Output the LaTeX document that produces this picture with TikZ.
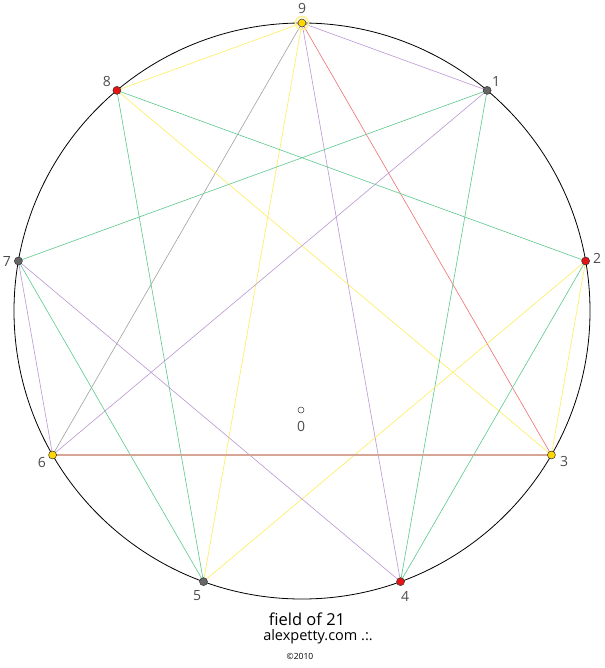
\documentclass[tikz,border=0pt]{standalone}
\usepackage{fontspec}
\setmainfont{Open Sans}
\usetikzlibrary{calc}
\definecolor{cyel}{RGB}{255,236,90}
\definecolor{cgrn}{RGB}{90,200,140}
\definecolor{cpur}{RGB}{185,150,210}
\definecolor{cred}{RGB}{240,110,110}
\definecolor{cgry}{RGB}{160,160,160}
\definecolor{ctan}{RGB}{215,165,150}
\definecolor{chalo}{RGB}{255,240,150}
\definecolor{dyel}{RGB}{255,215,0}
\definecolor{dred}{RGB}{230,20,20}
\begin{document}
\begin{tikzpicture}[x=1pt,y=-1pt,
  lbl/.style={text=black!70, font=\fontsize{14}{14}\selectfont, inner sep=0pt},
  dot/.style={circle, draw=black!80, line width=0.5pt, minimum size=8pt, inner sep=0pt},
  yl/.style={draw=cyel, line width=0.6pt},
  gl/.style={draw=cgrn, line width=0.6pt},
  pl/.style={draw=cpur, line width=0.6pt},
  rl/.style={draw=cred, line width=0.6pt},
  al/.style={draw=cgry, line width=0.6pt},
  tl/.style={draw=ctan, line width=1.4pt}]
\useasboundingbox (0,0) rectangle (604,668);
\coordinate (c) at (302,311);
\draw[black, line width=0.8pt] (c) circle (288);
\foreach \n/\a in {9/90,1/50,2/10,3/-30,4/-70,5/-110,6/-150,7/170,8/130}
  \coordinate (p\n) at ($(c)+({288*cos(\a)},{-288*sin(\a)})$);
% lines
\draw[pl] (p9) -- (p1);
\draw[yl] (p9) -- (p8);
\draw[rl] (p9) -- (p3);
\draw[pl] (p9) -- (p4);
\draw[yl] (p9) -- (p5);
\draw[al] (p9) -- (p6);
\draw[gl] (p8) -- (p2);
\draw[yl] (p8) -- (p3);
\draw[gl] (p8) -- (p5);
\draw[gl] (p1) -- (p7);
\draw[pl] (p1) -- (p6);
\draw[gl] (p1) -- (p4);
\draw[pl] (p7) -- (p6);
\draw[gl] (p7) -- (p5);
\draw[pl] (p7) -- (p4);
\draw[yl] (p2) -- (p3);
\draw[gl] (p2) -- (p4);
\draw[yl] (p2) -- (p5);
\draw[tl] (p6) -- (p3);
% halo
\draw[chalo, line width=1.5pt] (p9) circle (6.5);
% dots
\node[dot, fill=dyel] (d9) at (p9) {};
\node[dot, fill=black!60] (d1) at (p1) {};
\node[dot, fill=dred] (d2) at (p2) {};
\node[dot, fill=dyel] (d3) at (p3) {};
\node[dot, fill=dred] (d4) at (p4) {};
\node[dot, fill=black!60] (d5) at (p5) {};
\node[dot, fill=dyel] (d6) at (p6) {};
\node[dot, fill=black!60] (d7) at (p7) {};
\node[dot, fill=dred] (d8) at (p8) {};
% labels
\node[lbl] (l9) at (302,9) {9};
\node[lbl] (l1) at (496,82) {1};
\node[lbl] (l2) at (597,258) {2};
\node[lbl] (l3) at (564,461) {3};
\node[lbl] (l4) at (405,596) {4};
\node[lbl] (l5) at (197,596) {5};
\node[lbl] (l6) at (42,462) {6};
\node[lbl] (l7) at (7,262) {7};
\node[lbl] (l8) at (107,82) {8};
% center
\node[circle, draw=black!80, fill=white, line width=0.5pt, minimum size=6pt, inner sep=0pt] (o) at (301,410) {};
\node[lbl] (l0) at (301,426) {0};
% titles
\node[inner sep=0pt, font=\fontsize{16.5}{16.5}\selectfont] (t1) at (307,619) {field of 21};
\node[inner sep=0pt, font=\fontsize{14.5}{14.5}\selectfont] (t2) at (318,637) {alexpetty.com .:.};
\node[inner sep=0pt, font=\fontsize{8.5}{8.5}\selectfont] (t3) at (300,656) {©2010};
\end{tikzpicture}
\end{document}
